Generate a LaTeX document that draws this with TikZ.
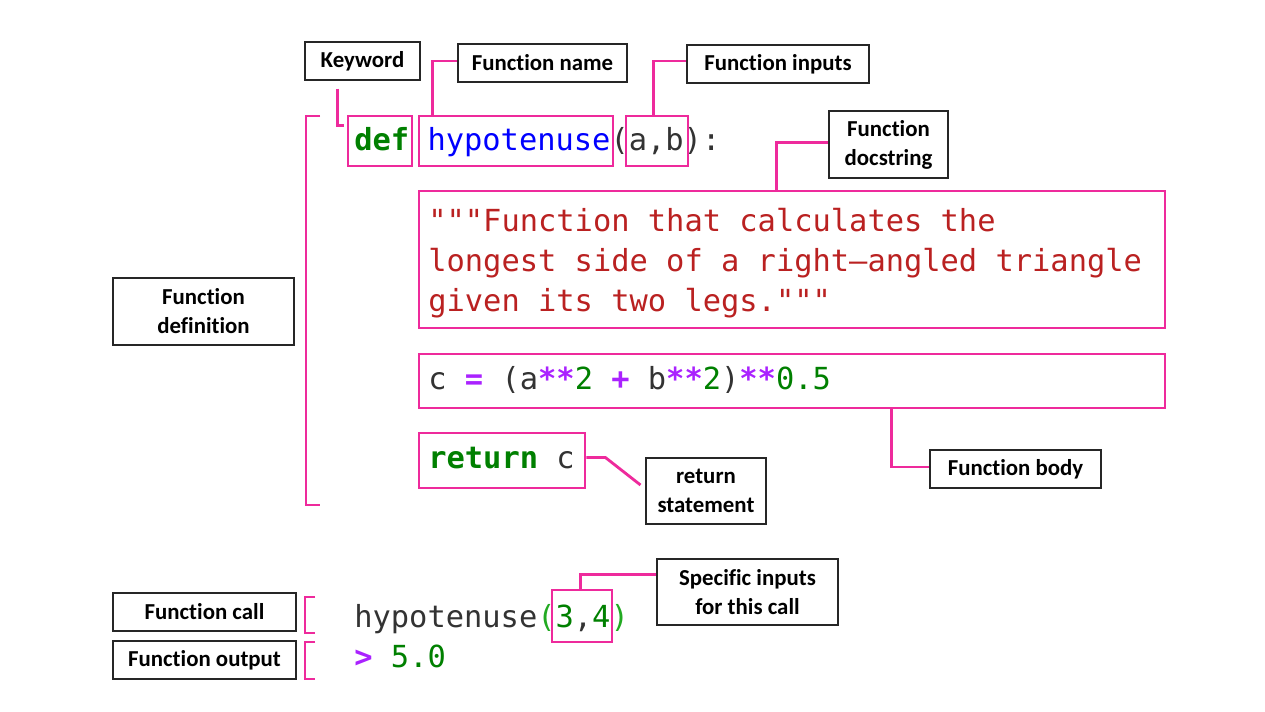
\documentclass[tikz,border=0pt]{standalone}
\usepackage{fontspec}
\setmainfont{Carlito}[Ligatures=NoCommon]
\setmonofont{DejaVu Sans Mono}
\usepackage{tikz}
\usetikzlibrary{positioning,calc}
\definecolor{HiPink}{HTML}{EE2A9C}
\definecolor{KwGreen}{HTML}{008000}
\definecolor{NameBlue}{HTML}{0000FF}
\definecolor{CodeGray}{HTML}{333333}
\definecolor{StrRed}{HTML}{BA2121}
\definecolor{OpPurple}{HTML}{AA22FF}
\definecolor{ParGreen}{HTML}{22AA22}
\newcommand{\pykw}[1]{{\bfseries\color{KwGreen}#1}}
\newcommand{\pyop}[1]{{\bfseries\color{OpPurple}#1}}
\newcommand{\pynum}[1]{{\color{KwGreen}#1}}
\tikzset{
  lbl/.style={draw=black!85,line width=.6pt,align=center,inner sep=2pt,
    font=\fontsize{13}{16.5}\selectfont\bfseries},
  hl/.style={draw=HiPink,line width=1.6pt,inner sep=0pt},
  pk/.style={draw=HiPink,line width=1.6pt},
  code/.style={font=\fontsize{17.3}{20}\selectfont\ttfamily,text=CodeGray,
    anchor=base west,inner sep=0pt},
}
\begin{document}
\begin{tikzpicture}[x=0.02cm,y=-0.02cm]
  \fill[white] (0,0) rectangle (1265,712);
  \useasboundingbox (0,0) rectangle (1265,712);
  % labels
  \node[lbl,minimum width=2.30cm,minimum height=.76cm] (kw) at (362.5,61) {Keyword};
  \node[lbl,minimum width=3.38cm,minimum height=.76cm] (fname) at (542.5,63) {Function name};
  \node[lbl,minimum width=3.64cm,minimum height=.76cm] (finp) at (778,64) {Function inputs};
  \node[lbl,minimum width=2.38cm,minimum height=1.34cm] (fdoc) at (888.5,144.5) {Function\\docstring};
  \node[lbl,minimum width=3.62cm,minimum height=1.34cm] (fdef) at (203.5,311.5) {Function\\definition};
  \node[lbl,minimum width=3.42cm,minimum height=.76cm] (fbody) at (1015.5,469) {Function body};
  \node[lbl,minimum width=2.40cm,minimum height=1.32cm] (rets) at (706,491) {return\\statement};
  \node[lbl,minimum width=3.62cm,minimum height=1.32cm] (spec) at (747.5,592) {Specific inputs\\for this call};
  \node[lbl,minimum width=3.66cm,minimum height=.76cm] (fcall) at (204.5,612) {Function call};
  \node[lbl,minimum width=3.66cm,minimum height=.76cm] (fout) at (204.5,660) {Function output};
  % code
  \node[code] (line1) at (354,151) {\pykw{def} {\color{NameBlue}hypotenuse}(a,b):};
  \foreach \yy/\txt [count=\i] in {232/"""Function that calculates the,
      272/longest side of a right–angled triangle,
      312/given its two legs."""}
    \node[code,text=StrRed] (doc\i) at (428,\yy) {\txt};
  \node[code] (calc) at (428,390) {c \pyop{=} (a\pyop{**}\pynum{2} \pyop{+} b\pyop{**}\pynum{2})\pyop{**}\pynum{0.5}};
  \node[code] (ret) at (428,469) {\pykw{return} c};
  \node[code] (call) at (354,628) {hypotenuse{\color{ParGreen}(}\pynum{3},\pynum{4}{\color{ParGreen})}};
  \node[code] (out) at (354,667) {\pyop{>} \pynum{5.0}};
  % highlight boxes
  \node[hl,minimum width=1.28cm,minimum height=1.00cm] (def) at (380,141) {};
  \node[hl,minimum width=3.88cm,minimum height=1.00cm] (hypo) at (516,141) {};
  \node[hl,minimum width=1.24cm,minimum height=1.00cm] (args) at (657,141) {};
  \node[hl,minimum width=14.92cm,minimum height=2.74cm] (docb) at (792,259.5) {};
  \node[hl,minimum width=14.92cm,minimum height=1.08cm] (cbox) at (792,381) {};
  \node[hl,minimum width=3.32cm,minimum height=1.10cm] (retb) at (502,460.5) {};
  \node[hl,minimum width=1.20cm,minimum height=1.04cm] (call34) at (582,616) {};
  % connectors
  \draw[pk] ($(kw.south)+(-25,8)$) |- ($(def.north west)+(-3,11)$);
  \draw[pk] ($(hypo.north west)+(15,0)$) |- ($(fname.west)+(0,-2)$);
  \draw[pk] ($(args.north west)+(29,0)$) |- ($(finp.west)+(0,-3)$);
  \draw[pk] ($(docb.north west)+(359,0)$) |- ($(fdoc.west)+(0,-2)$);
  \draw[pk] ($(cbox.south west)+(474,0)$) |- ($(fbody.west)+(0,-2)$);
  \draw[pk] ($(retb.east)+(0,-3)$) -- ++(19,0) -- ($(rets.west)+(-5,-6)$);
  \draw[pk] ($(call34.north west)+(30,0)$) |- ($(spec.north west)+(0,16)$);
  % brackets
  \draw[pk] (320,116) -| (306,505) -- (320,505);
  \draw[pk] (315,597) -| (305,633) -- (315,633);
  \draw[pk] (315,642) -| (305,679) -- (315,679);
\end{tikzpicture}
\end{document}
